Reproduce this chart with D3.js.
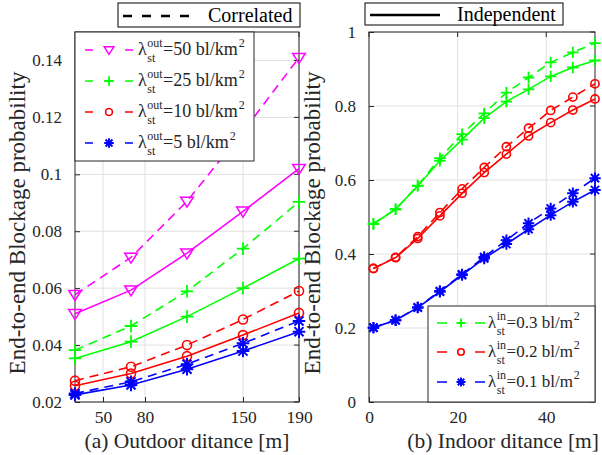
<!DOCTYPE html>
<html>
<head>
<meta charset="utf-8">
<script src="https://cdn.jsdelivr.net/npm/d3@7"></script>
<style>
  body { margin: 0; background: #fff; }
</style>
</head>
<body>
<div id="plot"></div>
<script>
// ############ DATA ###############

const outDist = [30, 70, 110, 150, 190];
const outTicks = [50, 80, 150, 190];
const outYTicks = [0.02, 0.04, 0.06, 0.08, 0.1, 0.12, 0.14];

const out50Ind = [0.051, 0.0593, 0.0723, 0.087, 0.102];
const out50Cor = [0.0577, 0.0708, 0.0905, 0.115, 0.141];
const out25Ind = [0.0353, 0.0412, 0.050, 0.060, 0.0704];
const out25Cor = [0.0382, 0.0467, 0.0589, 0.0739, 0.0903];
const out10Ind = [0.0257, 0.030, 0.0361, 0.0435, 0.0513];
const out10Cor = [0.0275, 0.0324, 0.040, 0.049, 0.059];
const out5Ind = [0.0225, 0.026, 0.0315, 0.0379, 0.0447];
const out5Cor = [0.023, 0.0271, 0.0333, 0.0406, 0.0485];

const inDist = [1, 6, 11, 16, 21, 26, 31, 36, 41, 46, 51];
const inTicks = [0, 20, 40];
const inYTicks = [0, 0.2, 0.4, 0.6, 0.8, 1];

const in3Ind = [0.481, 0.521, 0.584, 0.652, 0.709, 0.767, 0.812, 0.845, 0.880, 0.904, 0.923];
const in3Cor = [0.482, 0.521, 0.585, 0.659, 0.724, 0.780, 0.836, 0.877, 0.918, 0.945, 0.970];
const in2Ind = [0.361, 0.390, 0.442, 0.503, 0.564, 0.620, 0.670, 0.719, 0.755, 0.789, 0.819];
const in2Cor = [0.361, 0.391, 0.447, 0.512, 0.576, 0.634, 0.690, 0.740, 0.788, 0.824, 0.860];
const in1Ind = [0.201, 0.221, 0.255, 0.298, 0.343, 0.388, 0.427, 0.467, 0.505, 0.541, 0.573];
const in1Cor = [0.201, 0.221, 0.256, 0.300, 0.345, 0.392, 0.437, 0.483, 0.523, 0.564, 0.605];

const outLabels = ["=50 bl/km", "=25 bl/km", "=10 bl/km", "=5 bl/km"];
const inLabels = ["=0.3 bl/m", "=0.2 bl/m", "=0.1 bl/m"];

const w = 602, h = 455;
const axisColor = "#262626";
const gridColor = "#e0e0e0";
const FONT = "Liberation Serif";

const svg = d3.select("div#plot")
  .append("svg")
  .attr("width", w)
  .attr("height", h)
  .attr("font-family", FONT);

function txt(g) {
  return g.append("text").attr("font-family", FONT).attr("fill", axisColor);
}

// ############ MARKERS ###############

function drawMarker(g, type, x, y, color, s) {
  const m = g.append("g").attr("transform", `translate(${x},${y})`);
  if (type == "tri") {
    m.append("path")
      .attr("d", `M${-s*0.6},${-s*0.4} L${s*0.6},${-s*0.4} L0,${s*0.55} Z`)
      .attr("fill", "none").attr("stroke", color).attr("stroke-width", 1.5);
  } else if (type == "plus") {
    m.append("path")
      .attr("d", `M${-s*0.6},0 L${s*0.6},0 M0,${-s*0.6} L0,${s*0.6}`)
      .attr("stroke", color).attr("stroke-width", 1.8);
  } else if (type == "circ") {
    m.append("circle").attr("r", s*0.43)
      .attr("fill", "none").attr("stroke", color).attr("stroke-width", 1.6);
  } else if (type == "star") {
    const r = s*0.6, d = r*0.72;
    m.append("path")
      .attr("d", `M${-r},0 L${r},0 M0,${-r} L0,${r} M${-d},${-d} L${d},${d} M${-d},${d} L${d},${-d}`)
      .attr("stroke", color).attr("stroke-width", 2);
  }
}

// ############ PANEL ###############

function panel(opt) {
  const g = svg.append("g");
  const x = d3.scaleLinear().domain(opt.xdom).range([opt.left, opt.right]);
  const y = d3.scaleLinear().domain(opt.ydom).range([opt.bottom, opt.top]);

  // grid
  g.append("g").selectAll("line").data(opt.xticks).enter().append("line")
    .attr("x1", d => x(d)).attr("x2", d => x(d))
    .attr("y1", opt.top).attr("y2", opt.bottom)
    .attr("stroke", gridColor).attr("stroke-width", 1);
  g.append("g").selectAll("line").data(opt.yticks).enter().append("line")
    .attr("x1", opt.left).attr("x2", opt.right)
    .attr("y1", d => y(d)).attr("y2", d => y(d))
    .attr("stroke", gridColor).attr("stroke-width", 1);

  // axes
  const xAxis = d3.axisBottom(x).tickValues(opt.xticks).tickSize(-5).tickPadding(9).tickFormat(d3.format("d"));
  const yAxis = d3.axisLeft(y).tickValues(opt.yticks).tickSize(-5).tickPadding(13).tickFormat(opt.yfmt);
  const xa = g.append("g").attr("transform", `translate(0,${opt.bottom})`).call(xAxis);
  const ya = g.append("g").attr("transform", `translate(${opt.left},0)`).call(yAxis);
  xa.attr("font-family", FONT).attr("font-size", 17.5);
  ya.attr("font-family", FONT).attr("font-size", 17);
  [xa, ya].forEach(a => {
    a.select(".domain").remove();
    a.selectAll("line").attr("stroke", axisColor);
    a.selectAll("text").attr("fill", axisColor);
  });
  // top/right ticks
  g.append("g").selectAll("line").data(opt.xticks).enter().append("line")
    .attr("x1", d => x(d)).attr("x2", d => x(d))
    .attr("y1", opt.top).attr("y2", opt.top + 5).attr("stroke", axisColor);
  g.append("g").selectAll("line").data(opt.yticks).enter().append("line")
    .attr("x1", opt.right).attr("x2", opt.right - 5)
    .attr("y1", d => y(d)).attr("y2", d => y(d)).attr("stroke", axisColor);

  g.append("rect")
    .attr("x", opt.left).attr("y", opt.top)
    .attr("width", opt.right - opt.left).attr("height", opt.bottom - opt.top)
    .attr("fill", "none").attr("stroke", axisColor).attr("stroke-width", 1);

  // series
  const clipId = "clip" + opt.id;
  svg.append("clipPath").attr("id", clipId).append("rect")
    .attr("x", opt.left - 10).attr("y", opt.top - 10)
    .attr("width", opt.right - opt.left + 20).attr("height", opt.bottom - opt.top + 20);
  const sg = g.append("g").attr("clip-path", `url(#${clipId})`);
  const line = d3.line().x(d => x(d[0])).y(d => y(d[1]));
  opt.series.forEach(s => {
    const pts = opt.xdata.map((v, i) => [v, s.values[i]]);
    sg.append("path").datum(pts)
      .attr("d", line)
      .attr("fill", "none").attr("stroke", s.color).attr("stroke-width", 1.6)
      .attr("stroke-dasharray", s.dashed ? "9,6" : null);
    pts.forEach(p => drawMarker(sg, s.marker, x(p[0]), y(p[1]), s.color, opt.msize));
  });

  // axis labels
  txt(g)
    .attr("x", opt.xlabX).attr("y", 448)
    .attr("text-anchor", opt.xlabAnchor)
    .attr("font-size", 21.5)
    .text(opt.xlabel);
  txt(g)
    .attr("transform", `translate(${opt.ylabX},223) rotate(-90)`)
    .attr("text-anchor", "middle")
    .attr("font-size", 23)
    .text("End-to-end Blockage probability");
  return g;
}

// ############ LEGEND ###############

function lambdaLabel(g, x, y, sup, rest, fs) {
  const t1 = txt(g).attr("x", x).attr("y", y).attr("font-size", fs).text("λ");
  const lw = t1.node().getComputedTextLength();
  const supT = txt(g).attr("x", x + lw + 0.5).attr("y", y - 8).attr("font-size", 12).text(sup);
  const subT = txt(g).attr("x", x + lw + 0.5).attr("y", y + 7).attr("font-size", 12).text("st");
  const sw = Math.max(supT.node().getComputedTextLength(), subT.node().getComputedTextLength());
  const t2 = txt(g).attr("x", x + lw + sw + 1).attr("y", y).attr("font-size", fs).text(rest);
  const rw = t2.node().getComputedTextLength();
  txt(g).attr("x", x + lw + sw + 1 + rw + 1).attr("y", y - 8).attr("font-size", 12).text("2");
}

function legend(box, rows, entries, sampleX, dash, textX, supText, labels, fs, ms) {
  const g = svg.append("g");
  g.append("rect")
    .attr("x", box[0]).attr("y", box[1]).attr("width", box[2]).attr("height", box[3])
    .attr("fill", "#fff").attr("stroke", axisColor).attr("stroke-width", 1);
  entries.forEach((s, i) => {
    const yy = rows[i];
    g.append("line")
      .attr("x1", sampleX[0]).attr("x2", sampleX[1]).attr("y1", yy).attr("y2", yy)
      .attr("stroke", s.color).attr("stroke-width", 1.6)
      .attr("stroke-dasharray", dash);
    drawMarker(g, s.marker, (sampleX[0] + sampleX[1]) / 2, yy, s.color, ms);
    lambdaLabel(g, textX, yy + 5, supText, labels[i], fs);
  });
}

// ############ LEFT PANEL ###############

const leftSeries = [
  {values: out50Cor, color: "#ff00ff", marker: "tri", dashed: true},
  {values: out50Ind, color: "#ff00ff", marker: "tri", dashed: false},
  {values: out25Cor, color: "#00ff00", marker: "plus", dashed: true},
  {values: out25Ind, color: "#00ff00", marker: "plus", dashed: false},
  {values: out10Cor, color: "#ff0000", marker: "circ", dashed: true},
  {values: out10Ind, color: "#ff0000", marker: "circ", dashed: false},
  {values: out5Cor, color: "#0000ff", marker: "star", dashed: true},
  {values: out5Ind, color: "#0000ff", marker: "star", dashed: false}
];

panel({
  id: "a", left: 75, right: 299, top: 32, bottom: 402,
  xdom: [30, 190], ydom: [0.02, 0.15],
  xticks: outTicks, yticks: outYTicks, yfmt: d => d3.format("")(d),
  xdata: outDist, series: leftSeries, msize: 10.5,
  xlabel: "(a) Outdoor ditance [m]", xlabX: 187, xlabAnchor: "middle", ylabX: 25
});

// ############ RIGHT PANEL ###############

const rightSeries = [
  {values: in3Cor, color: "#00ff00", marker: "plus", dashed: true},
  {values: in3Ind, color: "#00ff00", marker: "plus", dashed: false},
  {values: in2Cor, color: "#ff0000", marker: "circ", dashed: true},
  {values: in2Ind, color: "#ff0000", marker: "circ", dashed: false},
  {values: in1Cor, color: "#0000ff", marker: "star", dashed: true},
  {values: in1Ind, color: "#0000ff", marker: "star", dashed: false}
];

panel({
  id: "b", left: 369, right: 595, top: 32, bottom: 402,
  xdom: [0, 51], ydom: [0, 1],
  xticks: inTicks, yticks: inYTicks, yfmt: d => d3.format("")(d),
  xdata: inDist, series: rightSeries, msize: 9.5,
  xlabel: "(b) Indoor ditance [m]", xlabX: 599, xlabAnchor: "end", ylabX: 320
});

// ############ LEGENDS ###############

legend([75, 32, 179, 129], [50, 81, 112, 143],
  leftSeries.filter(s => s.dashed), [85, 133], "8,32", 138, "out", outLabels, 18, 8);

legend([428, 306, 167, 96], [323, 352, 382],
  rightSeries.filter(s => s.dashed), [437, 485], "10,28", 488, "in", inLabels, 17, 7.5);

// top legends
const tl = svg.append("g");
tl.append("rect").attr("x", 118).attr("y", 3).attr("width", 182).attr("height", 24)
  .attr("fill", "#fff").attr("stroke", "#000");
tl.append("line").attr("x1", 123).attr("x2", 190).attr("y1", 16).attr("y2", 16)
  .attr("stroke", "#000").attr("stroke-width", 2.5).attr("stroke-dasharray", "9,10");
txt(tl).attr("x", 208).attr("y", 22).attr("font-size", 20).attr("fill", "#000").text("Correlated");

tl.append("rect").attr("x", 365).attr("y", 3).attr("width", 198).attr("height", 22)
  .attr("fill", "#fff").attr("stroke", "#000");
tl.append("line").attr("x1", 370).attr("x2", 440).attr("y1", 15).attr("y2", 15)
  .attr("stroke", "#000").attr("stroke-width", 2.5);
txt(tl).attr("x", 457).attr("y", 21).attr("font-size", 20).attr("fill", "#000").text("Independent");
</script>
</body>
</html>
